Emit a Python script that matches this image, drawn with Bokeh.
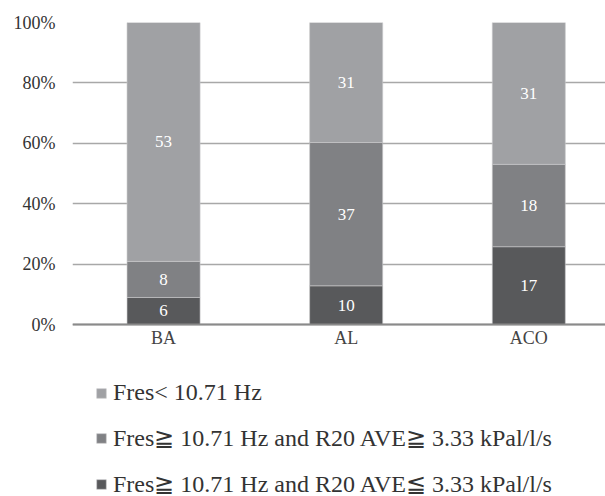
from bokeh.plotting import figure
from bokeh.models import ColumnDataSource, FixedTicker, Legend, LegendItem, Span
from bokeh.core.properties import value
from bokeh.embed import file_html
from bokeh.resources import INLINE

categories = ["BA", "AL", "ACO"]
dark_counts = [6, 10, 17]     # Fres>=10.71 Hz and R20 AVE<=3.33
mid_counts = [8, 37, 18]      # Fres>=10.71 Hz and R20 AVE>=3.33
light_counts = [53, 31, 31]   # Fres<10.71 Hz
series_names = [
    "Fres< 10.71 Hz",
    "Fres\u2267 10.71 Hz and R20 AVE\u2267 3.33 kPal/l/s",
    "Fres\u2267 10.71 Hz and R20 AVE\u2266 3.33 kPal/l/s",
]
y_ticks = [0, 20, 40, 60, 80, 100]
y_tick_labels = ["0%", "20%", "40%", "60%", "80%", "100%"]

FONT = "Liberation Serif"
C_DARK, C_MID, C_LIGHT = "#58595b", "#808184", "#a0a1a4"

xs = list(range(len(categories)))
totals = [a + b + c for a, b, c in zip(dark_counts, mid_counts, light_counts)]
dark_p = [100 * v / t for v, t in zip(dark_counts, totals)]
mid_p = [100 * v / t for v, t in zip(mid_counts, totals)]
light_p = [100 * v / t for v, t in zip(light_counts, totals)]

src = ColumnDataSource(dict(x=xs, dark=dark_p, mid=mid_p, light=light_p))

# frame spans from the top of the bars to the bottom of the page; the area
# below 0% holds the category labels and the legend
H, TOP, ZERO = 496, 22, 324
y_min = -100 * (H - ZERO) / (ZERO - TOP)

p = figure(width=605, height=H, x_range=(-0.4986, 2.42), y_range=(y_min, 100),
           output_backend="svg", toolbar_location=None,
           min_border_left=72, min_border_right=0, min_border_top=TOP, min_border_bottom=0)
p.outline_line_color = None
p.xaxis.visible = False

rs = p.vbar_stack(["dark", "mid", "light"], x="x", width=0.4, source=src,
                  color=[C_DARK, C_MID, C_LIGHT], line_color="#c9c9cb", line_width=0.6)

# segment labels
lx, ly, lt = [], [], []
for i in xs:
    segs = [(dark_counts[i], dark_p[i]), (mid_counts[i], mid_p[i]), (light_counts[i], light_p[i])]
    base = 0
    for cnt, pc in segs:
        lx.append(i)
        ly.append(base + pc / 2)
        lt.append(str(cnt))
        base += pc
lsrc = ColumnDataSource(dict(x=lx, y=ly, t=lt))
p.text(x="x", y="y", text="t", source=lsrc, text_align="center", text_baseline="middle",
       text_color="white", text_font=value(FONT), text_font_size="17px")

# category labels under the baseline
csrc = ColumnDataSource(dict(x=xs, y=[0] * len(xs), t=categories))
p.text(x="x", y="y", text="t", source=csrc, y_offset=3, text_align="center",
       text_baseline="top", text_color="#444444", text_font=value(FONT),
       text_font_size="18px")

p.xgrid.grid_line_color = None
p.ygrid.grid_line_color = "#a8a8a8"
p.ygrid.grid_line_width = 1.5
p.ygrid.ticker = FixedTicker(ticks=y_ticks)

p.add_layout(Span(location=0, dimension="width", line_color="#8a8a8a", line_width=2))

p.yaxis.ticker = FixedTicker(ticks=y_ticks)
p.yaxis.major_label_overrides = {t: l for t, l in zip(y_ticks, y_tick_labels)}
p.yaxis.axis_line_color = None
p.yaxis.major_tick_line_color = None
p.yaxis.minor_tick_line_color = None
p.yaxis.major_label_standoff = 11
p.yaxis.major_label_text_font = FONT
p.yaxis.major_label_text_font_size = "18px"
p.yaxis.major_label_text_color = "#333333"

items = [LegendItem(label=series_names[0], renderers=[rs[2]]),
         LegendItem(label=series_names[1], renderers=[rs[1]]),
         LegendItem(label=series_names[2], renderers=[rs[0]])]
legend = Legend(items=items, location=(23, -2), orientation="vertical",
                padding=0, margin=0, spacing=18, label_height=27,
                glyph_width=12, glyph_height=12, label_standoff=6,
                label_text_font=FONT, label_text_font_size="24px",
                label_text_color="#333333",
                border_line_color=None, background_fill_alpha=0)
p.add_layout(legend, "center")

open("out.html", "w").write(file_html(p, INLINE))
